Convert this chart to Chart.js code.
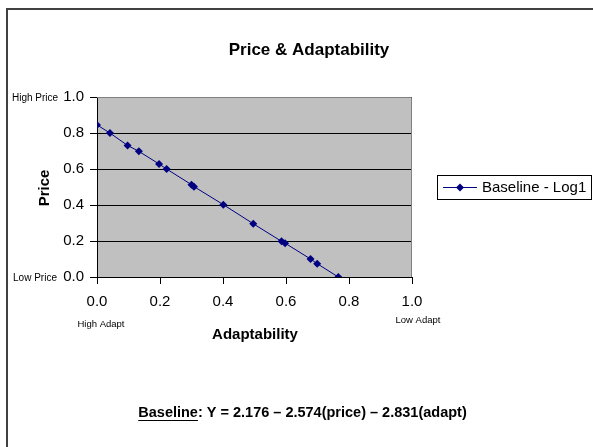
<!DOCTYPE html>
<html>
<head>
<meta charset="utf-8">
<script src="https://cdn.jsdelivr.net/npm/chart.js@4/dist/chart.umd.min.js"></script>
<style>
  body { margin: 0; background: #fff; }
  canvas { display: block; }
</style>
</head>
<body>
<canvas id="chart1" width="593" height="447"></canvas>
<script>
const adaptValues = [0, 0.041, 0.097, 0.133, 0.197, 0.221, 0.300, 0.308, 0.401, 0.496, 0.586, 0.597, 0.678, 0.699, 0.766];
const priceValues = [0.845, 0.800, 0.731, 0.698, 0.628, 0.600, 0.513, 0.502, 0.402, 0.296, 0.198, 0.188, 0.100, 0.074, 0.000];
const seriesName = 'Baseline - Log1';
const chartTitle = 'Price & Adaptability';
const xTitle = 'Adaptability';
const yTitle = 'Price';
const yEndLabels = ['High Price', 'Low Price'];
const xEndLabels = ['High Adapt', 'Low Adapt'];
const formulaLead = 'Baseline';
const formulaRest = ': Y = 2.176 \u2013 2.574(price) \u2013 2.831(adapt)';

const points = adaptValues.map((x, i) => ({x: x, y: priceValues[i]}));
const navy = '#000080';
const font = '"Liberation Sans", Arial, sans-serif';

const extras = {
    id: 'extras',
    beforeDraw(chart) {
        const c = chart.ctx, a = chart.chartArea;
        c.save();
        c.fillStyle = '#c0c0c0';
        c.fillRect(a.left, a.top, a.right - a.left, a.bottom - a.top);
        c.restore();
    },
    afterDraw(chart) {
        const c = chart.ctx, a = chart.chartArea;
        const xs = chart.scales.x, ys = chart.scales.y;
        c.save();
        // plot border (top / right)
        c.strokeStyle = '#808080';
        c.lineWidth = 1;
        c.beginPath();
        c.moveTo(a.left, a.top + 0.5);
        c.lineTo(a.right - 0.5, a.top + 0.5);
        c.lineTo(a.right - 0.5, a.bottom);
        c.stroke();

        // outer frame, only left and top are inside the picture
        c.strokeStyle = '#404040';
        c.lineWidth = 2;
        c.beginPath();
        c.moveTo(7, 447);
        c.lineTo(7, 9);
        c.lineTo(593, 9);
        c.stroke();

        c.fillStyle = '#000';
        c.textAlign = 'center';
        c.textBaseline = 'middle';

        c.font = 'bold 17px ' + font;
        c.fillText(chartTitle, 309, 50);
        c.font = 'bold 15px ' + font;
        c.fillText(xTitle, 255, 335);
        c.save();
        c.translate(45, 188);
        c.rotate(-Math.PI / 2);
        c.fillText(yTitle, 0, 0);
        c.restore();

        c.font = '10px ' + font;
        c.fillText(yEndLabels[0], 35, ys.getPixelForValue(1) + 1);
        c.fillText(yEndLabels[1], 35, ys.getPixelForValue(0) + 1);
        c.font = '9.5px ' + font;
        c.fillText(xEndLabels[0], 101, 324);
        c.fillText(xEndLabels[1], 418, 320);

        // legend box
        c.strokeStyle = '#000';
        c.lineWidth = 1;
        c.strokeRect(437.5, 175.5, 154, 24);
        c.strokeStyle = navy;
        c.beginPath();
        c.moveTo(443, 187.5);
        c.lineTo(477, 187.5);
        c.stroke();
        c.fillStyle = navy;
        c.beginPath();
        c.moveTo(460, 183.5);
        c.lineTo(464, 187.5);
        c.lineTo(460, 191.5);
        c.lineTo(456, 187.5);
        c.closePath();
        c.fill();
        c.fillStyle = '#000';
        c.textAlign = 'left';
        c.font = '15px ' + font;
        c.fillText(seriesName, 482, 188);

        // formula
        c.font = 'bold 14.5px ' + font;
        const w1 = c.measureText(formulaLead).width;
        const w2 = c.measureText(formulaRest).width;
        const x0 = 302.5 - (w1 + w2) / 2;
        c.fillText(formulaLead, x0, 413);
        c.fillText(formulaRest, x0 + w1, 413);
        c.fillRect(x0, 420, w1, 1);
        c.restore();
    }
};

new Chart('chart1', {
    type: 'scatter',
    data: {
        datasets: [{
            label: seriesName,
            data: points,
            showLine: true,
            borderColor: navy,
            borderWidth: 1,
            backgroundColor: navy,
            pointStyle: 'rectRot',
            pointRadius: 4,
            pointHoverRadius: 4,
            pointBorderWidth: 0
        }]
    },
    options: {
        responsive: false,
        animation: false,
        layout: {padding: {left: 0, top: 97, right: 181, bottom: 140}},
        plugins: {
            legend: {display: false},
            tooltip: {enabled: false}
        },
        scales: {
            x: {
                type: 'linear', min: 0, max: 1,
                afterFit(scale) { scale.height = 30; },
                ticks: {
                    stepSize: 0.2, padding: 9, color: '#000',
                    font: {size: 15, family: font},
                    callback: v => v.toFixed(1)
                },
                grid: {drawOnChartArea: false, drawTicks: true, tickLength: 7, color: '#000'},
                border: {color: '#000'}
            },
            y: {
                min: 0, max: 1,
                afterFit(scale) { scale.width = 97; },
                ticks: {
                    stepSize: 0.2, padding: 6, color: '#000',
                    font: {size: 15, family: font},
                    callback: v => v.toFixed(1)
                },
                grid: {color: '#000', drawTicks: true, tickLength: 7},
                border: {color: '#000'}
            }
        }
    },
    plugins: [extras]
});
</script>
</body>
</html>
